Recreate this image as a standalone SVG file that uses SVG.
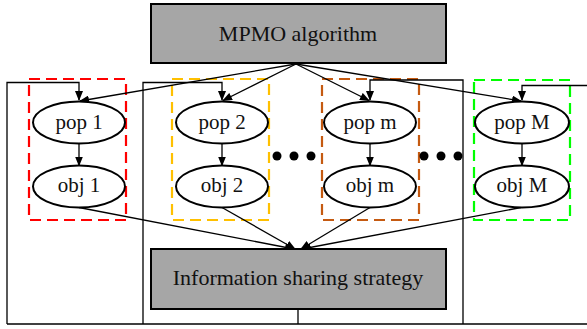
<svg xmlns="http://www.w3.org/2000/svg" width="587" height="329" viewBox="0 0 587 329">
<defs>
<marker id="ah" markerWidth="10" markerHeight="8" refX="9" refY="4" orient="auto" markerUnits="userSpaceOnUse">
<path d="M0,0 L10,4 L0,8 Z" fill="#000"/>
</marker>
<style>
.box{fill:#a6a6a6;stroke:#000;stroke-width:2}
.ell{fill:#fff;stroke:#000;stroke-width:2}
.t{font-family:"Liberation Serif","Times New Roman",serif;font-size:22px;fill:#111;text-anchor:middle}
.t2{font-family:"Liberation Serif","Times New Roman",serif;font-size:21px;fill:#111;text-anchor:middle}
.dash{fill:none;stroke-width:2.2;stroke-dasharray:11 6}
.ln{fill:none;stroke:#000;stroke-width:1.3}
.ar{fill:none;stroke:#000;stroke-width:1.3;marker-end:url(#ah)}
.dot{fill:#000}
</style>
</defs>
<g id="groups">
<rect x="29" y="79" width="97" height="141" class="dash" stroke="#ff0000"/>
<rect x="172" y="79" width="97" height="141" class="dash" stroke="#ffc000"/>
<rect x="322" y="79" width="97" height="141" class="dash" stroke="#c55a11"/>
<rect x="474" y="80" width="96" height="140" class="dash" stroke="#00ff00"/>
</g>
<g id="connectors">
<polyline class="ln" points="298,309 298,324"/>
<polyline class="ln" points="7,324 587,324"/>
<polyline class="ar" points="7,324 7,82.5 79,82.5 79,100"/>
<polyline class="ar" points="143,324 143,82.5 222,82.5 222,100"/>
<polyline class="ar" points="463,324 463,80 370,80 370,100"/>
<polyline class="ar" points="587,85.5 522,85.5 522,100"/>
<line class="ar" x1="296" y1="64" x2="80" y2="101"/>
<line class="ar" x1="296" y1="64" x2="223" y2="100.5"/>
<line class="ar" x1="296" y1="64" x2="369" y2="100.5"/>
<line class="ar" x1="296" y1="64" x2="521" y2="101"/>
<line class="ar" x1="79" y1="143.5" x2="79" y2="165.5"/>
<line class="ar" x1="222" y1="143.5" x2="222" y2="165.5"/>
<line class="ar" x1="370" y1="143.5" x2="370" y2="165.5"/>
<line class="ar" x1="522" y1="143.5" x2="522" y2="165.5"/>
<line class="ar" x1="79" y1="207.5" x2="294" y2="249"/>
<line class="ar" x1="222" y1="207.5" x2="295" y2="249"/>
<line class="ar" x1="370" y1="207.5" x2="301" y2="249"/>
<line class="ar" x1="521" y1="207.5" x2="302" y2="249"/>
</g>
<g id="mpmo">
<rect x="151" y="4" width="295" height="59" class="box"/>
<text x="298" y="41" class="t">MPMO algorithm</text>
</g>
<g id="info">
<rect x="151" y="249" width="295" height="60" class="box"/>
<text x="298" y="285" class="t">Information sharing strategy</text>
</g>
<g id="pop1">
<ellipse cx="79" cy="122.5" rx="46" ry="21" class="ell"/>
<text x="79" y="129" class="t2">pop 1</text>
</g>
<g id="obj1">
<ellipse cx="79" cy="186.5" rx="46" ry="21" class="ell"/>
<text x="79" y="192" class="t2">obj 1</text>
</g>
<g id="pop2">
<ellipse cx="222" cy="122.5" rx="46" ry="21" class="ell"/>
<text x="222" y="129" class="t2">pop 2</text>
</g>
<g id="obj2">
<ellipse cx="222" cy="186.5" rx="46" ry="21" class="ell"/>
<text x="222" y="192" class="t2">obj 2</text>
</g>
<g id="popm">
<ellipse cx="370" cy="122.5" rx="46" ry="21" class="ell"/>
<text x="370" y="129" class="t2">pop m</text>
</g>
<g id="objm">
<ellipse cx="370" cy="186.5" rx="46" ry="21" class="ell"/>
<text x="370" y="192" class="t2">obj m</text>
</g>
<g id="popM">
<ellipse cx="522" cy="122.5" rx="47" ry="21" class="ell"/>
<text x="522" y="129" class="t2">pop M</text>
</g>
<g id="objM">
<ellipse cx="522" cy="186.5" rx="47" ry="21" class="ell"/>
<text x="522" y="192" class="t2">obj M</text>
</g>
<g id="dots1">
<circle cx="277" cy="156" r="4.5" class="dot"/>
<circle cx="294" cy="156" r="4.5" class="dot"/>
<circle cx="311" cy="156" r="4.5" class="dot"/>
</g>
<g id="dots2">
<circle cx="424" cy="156" r="4.5" class="dot"/>
<circle cx="441" cy="156" r="4.5" class="dot"/>
<circle cx="458" cy="156" r="4.5" class="dot"/>
</g>
</svg>
